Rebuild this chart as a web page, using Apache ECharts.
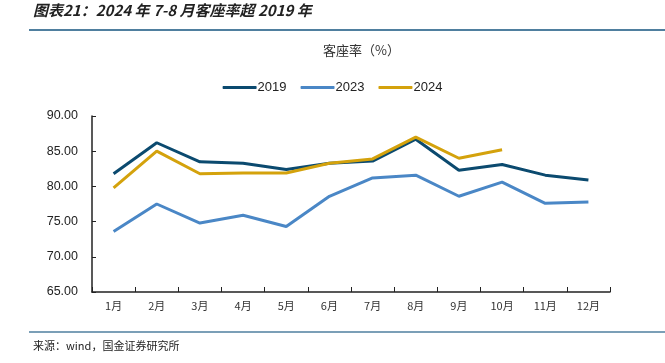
<!DOCTYPE html>
<html><head><meta charset="utf-8">
<script src="https://cdn.jsdelivr.net/npm/echarts@6/dist/echarts.min.js"></script>
<style>html,body{margin:0;padding:0;background:#fff}#c{width:665px;height:363px}</style>
</head><body><div id="c"></div>
<script>
const categories = ['1月','2月','3月','4月','5月','6月','7月','8月','9月','10月','11月','12月'];
const s2019 = [81.8, 86.2, 83.5, 83.3, 82.4, 83.3, 83.6, 86.7, 82.3, 83.1, 81.6, 80.9];
const s2023 = [73.6, 77.5, 74.8, 75.9, 74.3, 78.6, 81.2, 81.6, 78.6, 80.6, 77.6, 77.8];
const s2024 = [79.8, 85.0, 81.8, 81.9, 81.9, 83.3, 83.9, 87.0, 84.0, 85.2];
const yTicks = {min: 65, max: 90, interval: 5};

const chart = echarts.init(document.getElementById('c'));
const font = '"Liberation Sans", Arial, sans-serif';
const cjk = '"Noto Sans CJK SC", sans-serif';
function line(name, data, color) {
  return {name, type: 'line', data, symbol: 'none', lineStyle: {width: 3, color}, itemStyle: {color}};
}
chart.setOption({
  animation: false,
  graphic: [
    {type: 'text', left: 33, top: 3, style: {text: '图表21：2024 年 7-8 月客座率超 2019 年', font: 'italic bold 15px ' + cjk, fill: '#222'}},
    {type: 'line', shape: {x1: 29, y1: 30, x2: 665, y2: 30}, style: {stroke: '#4f7f9f', lineWidth: 2}},
    {type: 'line', shape: {x1: 29, y1: 332, x2: 665, y2: 332}, style: {stroke: '#4f7f9f', lineWidth: 1.5}},
    {type: 'text', left: 33, top: 340, style: {text: '来源：wind，国金证券研究所', font: '11px ' + cjk, fill: '#222'}},
    {type: 'text', left: 323, top: 44, style: {text: '客座率（%）', font: '13px ' + cjk, fill: '#333', align: 'center'}}
  ],
  legend: {top: 76, left: 'center', itemWidth: 34, itemHeight: 3, itemGap: 14,
    icon: 'roundRect',
    textStyle: {fontFamily: font, fontSize: 13, color: '#222', padding: [0,0,0,-4]},
    data: ['2019','2023','2024']},
  grid: {left: 92, right: 55, top: 116, bottom: 71},
  xAxis: {type: 'category', data: categories, boundaryGap: true,
    axisLine: {lineStyle: {color: '#222', width: 1.5}},
    axisTick: {show: true, inside: true, alignWithLabel: false, length: 5, lineStyle: {color: '#222'}},
    axisLabel: {fontFamily: cjk, fontSize: 11, color: '#333', margin: 8}},
  yAxis: {type: 'value', min: yTicks.min, max: yTicks.max, interval: yTicks.interval,
    axisLine: {show: true, lineStyle: {color: '#222', width: 1.5}},
    axisTick: {show: true, inside: true, length: 4, lineStyle: {color: '#222'}},
    splitLine: {show: false},
    axisLabel: {fontFamily: font, fontSize: 12.5, color: '#222', margin: 14, formatter: v => v.toFixed(2)}},
  series: [line('2019', s2019, '#0b4a6f'), line('2023', s2023, '#4a87c6'), line('2024', s2024, '#d4a20c')]
});
</script></body></html>
